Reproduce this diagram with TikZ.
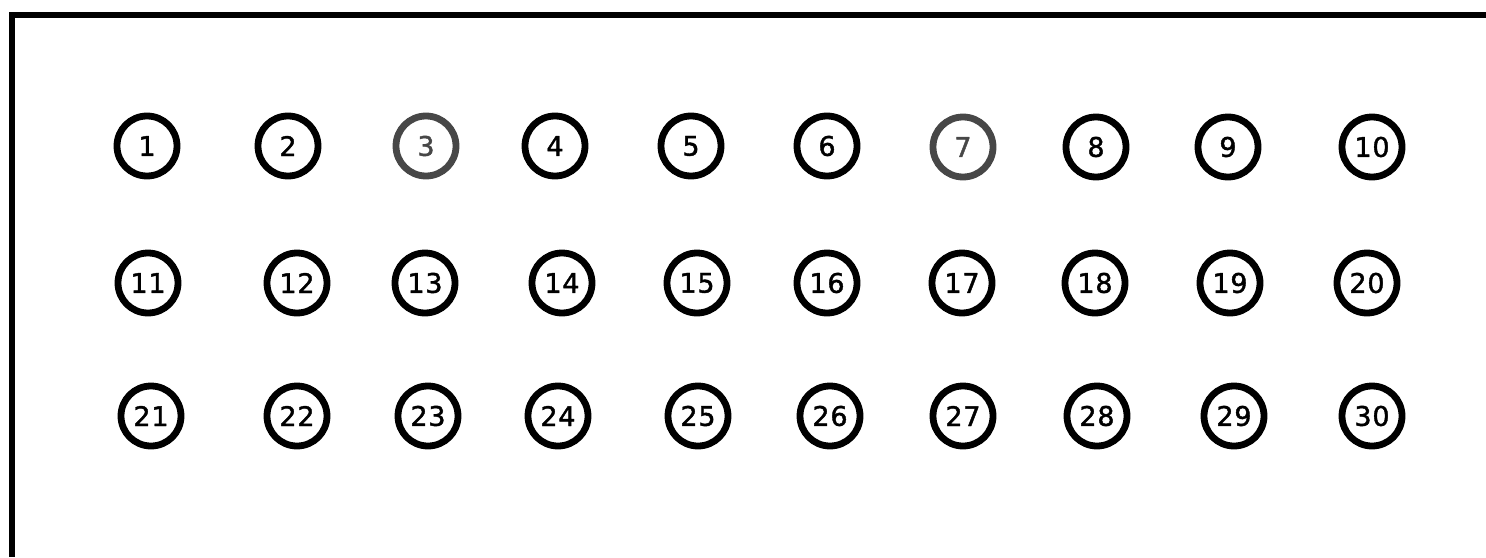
\documentclass[tikz,border=0pt]{standalone}
\usepackage{fontspec}
\setmainfont{DejaVu Sans}
\newfontfamily\numfont{DejaVu Sans}[LetterSpace=3, FakeBold=1.5]
\begin{document}
\begin{tikzpicture}[x=1pt,y=-1pt,
  frameline/.style={line width=6pt, line join=miter},
  num/.style={circle, draw, line width=6.8pt, minimum size=60pt, inner sep=0pt,
    font=\numfont\fontsize{27}{27}\selectfont},
  faint/.style={draw=black!72, text=black!72}]
\useasboundingbox (0,0) rectangle (1486,557);
\coordinate (tl) at (11.5,15);
\coordinate (tr) at (1486,15);
\coordinate (bl) at (11.5,557);
\draw[frameline] (tr) -- (tl) -- (bl);
% row 1
\foreach \n/\x/\y in {1/147/146, 2/288/146, 4/555/146, 5/691/146, 6/827/146, 8/1096/147, 9/1228/147, 10/1372/147}
  \node[num] (n\n) at (\x,\y) {\n};
\node[num,faint] (n3) at (426,146) {3};
\node[num,faint] (n7) at (963,147) {7};
% row 2
\foreach \n/\x/\y in {11/148/283, 12/297/283, 13/425/283, 14/562/283, 15/697/283, 16/827/283, 17/962/283, 18/1095/283, 19/1230/283, 20/1367/283}
  \node[num] (n\n) at (\x,\y) {\n};
% row 3
\foreach \n/\x/\y in {21/151/416, 22/297/416, 23/428/416, 24/558/416, 25/698/416, 26/830/416, 27/963/416, 28/1097/416, 29/1234/416, 30/1372/416}
  \node[num] (n\n) at (\x,\y) {\n};
\end{tikzpicture}
\end{document}
